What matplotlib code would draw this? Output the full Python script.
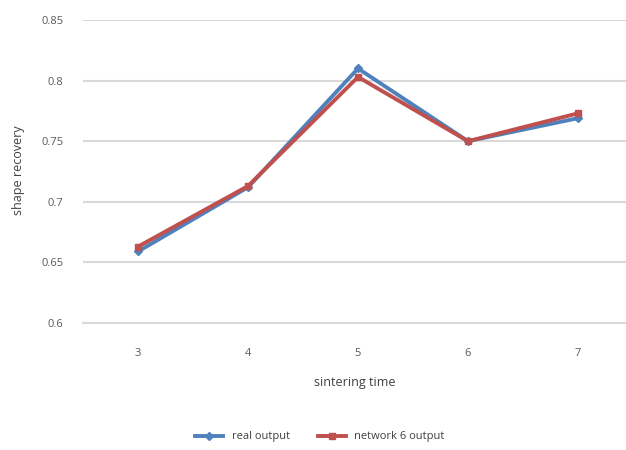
import matplotlib
matplotlib.use("Agg")
import matplotlib.pyplot as plt

sintering_time = [3, 4, 5, 6, 7]
real_output = [0.659, 0.712, 0.810, 0.750, 0.769]
network_output = [0.663, 0.713, 0.803, 0.750, 0.773]
y_ticks = [0.6, 0.65, 0.7, 0.75, 0.8, 0.85]
y_tick_labels = ["0.6", "0.65", "0.7", "0.75", "0.8", "0.85"]

plt.rcParams['font.family'] = ['Open Sans', 'DejaVu Sans']

W, H = 626, 450
fig = plt.figure(figsize=(W / 100, H / 100), dpi=100)
# plot area in pixels: left 83, top 20, bottom 323
ax = fig.add_axes([83 / W, 1 - 323 / H, 543 / W, (323 - 20) / H])

ax.plot(sintering_time, real_output, color='#4F81BD', lw=2.8, marker='D', ms=4.5,
        label='real output', zorder=3)
ax.plot(sintering_time, network_output, color='#C0504D', lw=2.8, marker='s', ms=4.5,
        label='network 6 output', zorder=4)

# category axis: half a step of margin on each side
ax.set_xlim(2.5, 2.5 + 543 / 110)
ax.set_ylim(0.6, 0.85)
ax.set_xticks(sintering_time)
ax.set_yticks(y_ticks)
ax.set_yticklabels(y_tick_labels)
ax.grid(axis='y', color='#d9d9d9', lw=1.5)
ax.set_axisbelow(True)
for side in ['left', 'right', 'top']:
    ax.spines[side].set_visible(False)
ax.spines['bottom'].set_color('#d9d9d9')
ax.spines['bottom'].set_linewidth(1.5)
ax.tick_params(axis='both', length=0, labelsize=8, colors='#595959')
ax.tick_params(axis='y', pad=14)
ax.tick_params(axis='x', pad=18)

ax.set_xlabel('sintering time', fontsize=9, color='#404040', labelpad=12)
ax.set_ylabel('shape recovery', fontsize=9, color='#404040')
ax.yaxis.set_label_coords((25 - 83) / 543, 1 - (170 - 20) / 303)

fig.legend(loc='center', bbox_to_anchor=(320 / W, 1 - 437 / H), ncol=2,
           frameon=False, fontsize=8, handlelength=2.5, columnspacing=2.5,
           labelcolor='#404040')

fig.savefig('out.png', dpi=100)
